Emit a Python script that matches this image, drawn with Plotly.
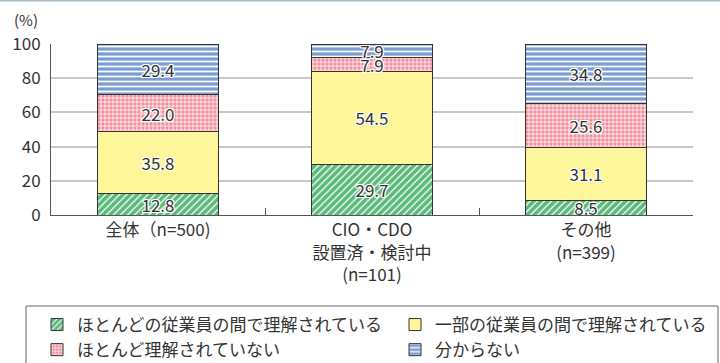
import plotly.graph_objects as go

# Survey shares (%) by respondent group
categories = ["全体（n=500)", "CIO・CDO<br>設置済・検討中<br>(n=101)", "その他<br>(n=399)"]
series_names = [
    "ほとんどの従業員の間で理解されている",
    "一部の従業員の間で理解されている",
    "ほとんど理解されていない",
    "分からない",
]
most_understand = [12.8, 29.7, 8.5]
some_understand = [35.8, 54.5, 31.1]
hardly_understand = [22.0, 7.9, 25.6]
unknown = [29.4, 7.9, 34.8]
y_ticks = [0, 20, 40, 60, 80, 100]

FONT = "Noto Sans CJK JP, Noto Sans, sans-serif"
TXT = "#333333"
HALO = ("-1px -1px 0 #fff, 1px -1px 0 #fff, -1px 1px 0 #fff, 1px 1px 0 #fff, "
        "0 1px 0 #fff, 0 -1px 0 #fff, 1px 0 0 #fff, -1px 0 0 #fff")

styles = [
    dict(color="#5cb97c", shape="/", size=5, solidity=0.25, legend="legend"),
    dict(color="#fff59b", shape="", size=8, solidity=0.3, legend="legend2"),
    dict(color="#f28d9c", shape="+", size=4, solidity=0.35, legend="legend"),
    dict(color="#7a9ed4", shape="-", size=5, solidity=0.35, legend="legend2"),
]
values = [most_understand, some_understand, hardly_understand, unknown]

fig = go.Figure()
for name, vals, st in zip(series_names, values, styles):
    fig.add_trace(go.Bar(
        x=categories,
        y=vals,
        name=name,
        legend=st["legend"],
        width=0.57,
        text=[f"{v:.1f}" for v in vals],
        textposition="inside",
        insidetextanchor="middle",
        textangle=0,
        constraintext="none",
        textfont=dict(family=FONT, size=17, color=TXT, shadow=HALO),
        marker=dict(
            color=st["color"],
            line=dict(color="#333333", width=1),
            pattern=dict(shape=st["shape"], fgcolor="#ffffff", fgopacity=1,
                         fillmode="overlay", size=st["size"], solidity=st["solidity"]),
        ),
        hoverinfo="skip",
    ))

# pixel geometry of the plot area
L, R, T, B = 51, 27, 44, 148
W, H = 720, 363
ph = H - T - B
pw = W - L - R


def px_x(x):
    return (x - L) / pw


def px_y(y):
    return (ph - (y - T)) / ph


legend_common = dict(
    orientation="v",
    traceorder="normal",
    yanchor="top", xanchor="left",
    y=px_y(307),
    bgcolor="rgba(0,0,0,0)",
    borderwidth=0,
    font=dict(family=FONT, size=17, color=TXT),
    itemwidth=30,
    tracegroupgap=0,
)

fig.update_layout(
    width=W, height=H,
    barmode="stack",
    plot_bgcolor="#ffffff",
    paper_bgcolor="#ffffff",
    margin=dict(l=L, r=R, t=T, b=B, autoexpand=False),
    font=dict(family=FONT, size=17, color=TXT),
    uniformtext=dict(minsize=17, mode="show"),
    showlegend=True,
    legend=dict(legend_common, x=px_x(37)),
    legend2=dict(legend_common, x=px_x(395)),
    xaxis=dict(
        showline=True, linecolor="#555555", linewidth=1,
        ticks="inside", tickson="boundaries", ticklen=7, tickcolor="#555555",
        tickfont=dict(family=FONT, size=17, color=TXT),
        showgrid=False,
    ),
    yaxis=dict(
        range=[0, 100], tickvals=y_ticks,
        showline=True, linecolor="#555555", linewidth=1,
        showgrid=True, gridcolor="#c8c8c8", gridwidth=1.5,
        ticks="", ticklabelstandoff=6,
        tickfont=dict(family=FONT, size=17, color=TXT),
        zeroline=False,
    ),
    annotations=[dict(
        text="(%)", xref="paper", yref="paper",
        x=px_x(12), y=px_y(19),
        xanchor="left", yanchor="middle", showarrow=False,
        font=dict(family=FONT, size=15, color=TXT),
    )],
    shapes=[
        # thin rule across the top of the figure
        dict(type="line", xref="paper", yref="paper",
             x0=px_x(0), x1=px_x(W), y0=px_y(0.5), y1=px_y(0.5),
             line=dict(color="#a9bdc9", width=2)),
        # frame around the legend
        dict(type="rect", xref="paper", yref="paper",
             x0=px_x(26), x1=px_x(718), y0=px_y(306), y1=px_y(372),
             line=dict(color="#666666", width=1), fillcolor="rgba(0,0,0,0)"),
    ],
)

fig.write_html("out.html")
